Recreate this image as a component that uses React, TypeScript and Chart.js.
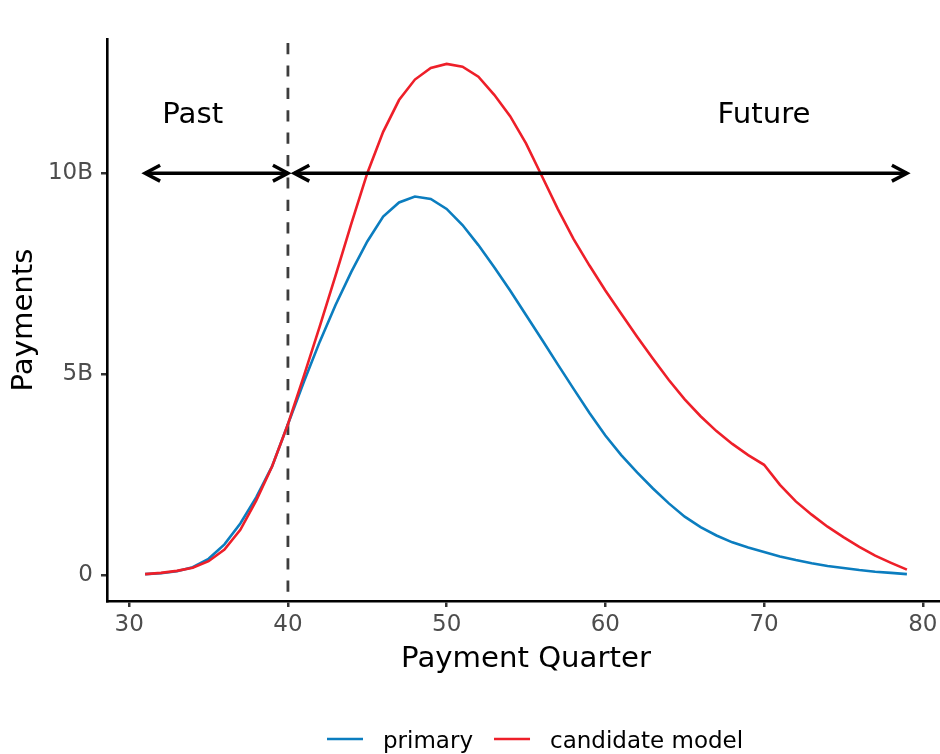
import React, { useEffect, useRef } from 'react';
import { Chart, registerables } from 'chart.js';

Chart.register(...registerables);

// Quarterly payments, in billions
const quarters = [
  31, 32, 33, 34, 35, 36, 37, 38, 39, 40,
  41, 42, 43, 44, 45, 46, 47, 48, 49, 50,
  51, 52, 53, 54, 55, 56, 57, 58, 59, 60,
  61, 62, 63, 64, 65, 66, 67, 68, 69, 70,
  71, 72, 73, 74, 75, 76, 77, 78, 79,
];
const primary = [
  0.02, 0.04, 0.09, 0.19, 0.4, 0.76, 1.28, 1.93, 2.7, 3.75,
  4.8, 5.8, 6.72, 7.55, 8.3, 8.92, 9.27, 9.42, 9.36, 9.11,
  8.71, 8.21, 7.66, 7.08, 6.47, 5.86, 5.24, 4.63, 4.03, 3.47,
  2.98, 2.55, 2.15, 1.78, 1.45, 1.19, 0.98, 0.81, 0.68, 0.57,
  0.46, 0.37, 0.29, 0.22, 0.17, 0.12, 0.08, 0.05, 0.02,
];
const candidate = [
  0.02, 0.05, 0.1, 0.18, 0.34, 0.63, 1.12, 1.85, 2.7, 3.75,
  4.95, 6.18, 7.45, 8.75, 10.0, 11.03, 11.82, 12.33, 12.62, 12.72,
  12.65, 12.4, 11.95, 11.42, 10.74, 9.93, 9.11, 8.36, 7.7, 7.08,
  6.5, 5.93, 5.38, 4.85, 4.37, 3.95, 3.58, 3.26, 2.98, 2.74,
  2.24, 1.83, 1.5, 1.2, 0.94, 0.7, 0.48, 0.3, 0.13,
];

const seriesNames = ['primary', 'candidate model'];
const seriesColors = ['#0b7dbf', '#ee1f29'];

const xTicks = [30, 40, 50, 60, 70, 80];
const yTicks = [0, 5, 10];

// Past / future split and its annotations
const cutoffQuarter = 40;
const pastSpan = [31, 40];
const futureSpan = [40.4, 79];
const arrowLevel = 10;
const periodLabels = ['Past', 'Future'];
const periodLabelX = [34, 70];
const periodLabelY = 11.45;

const FONT = "'DejaVu Sans', 'Noto Sans', sans-serif";
const TICK_SIZE = 23;
const TITLE_SIZE = 29.2;

const drawArrow = (ctx: CanvasRenderingContext2D, x1: number, x2: number, y: number) => {
  const len = 17;
  const ang = (28 * Math.PI) / 180;
  const dx = Math.cos(ang) * len;
  const dy = Math.sin(ang) * len;
  ctx.beginPath();
  ctx.moveTo(x1, y);
  ctx.lineTo(x2, y);
  ctx.stroke();
  ctx.beginPath();
  ctx.moveTo(x1 + dx, y - dy);
  ctx.lineTo(x1, y);
  ctx.lineTo(x1 + dx, y + dy);
  ctx.stroke();
  ctx.beginPath();
  ctx.moveTo(x2 - dx, y - dy);
  ctx.lineTo(x2, y);
  ctx.lineTo(x2 - dx, y + dy);
  ctx.stroke();
};

const annotationsPlugin = {
  id: 'periodAnnotations',
  beforeDatasetsDraw(chart: any) {
    const { ctx, chartArea, scales } = chart;
    const px = scales.x.getPixelForValue(cutoffQuarter);
    ctx.save();
    ctx.strokeStyle = '#3d3d3d';
    ctx.lineWidth = 2.8;
    ctx.setLineDash([11.2, 11.2]);
    ctx.lineDashOffset = 18.4;
    ctx.beginPath();
    ctx.moveTo(px, chartArea.top);
    ctx.lineTo(px, chartArea.bottom);
    ctx.stroke();
    ctx.restore();
  },
  afterDatasetsDraw(chart: any) {
    const { ctx, scales } = chart;
    const { x, y } = scales;
    const ay = y.getPixelForValue(arrowLevel);
    ctx.save();
    ctx.strokeStyle = '#000';
    ctx.lineWidth = 3.5;
    ctx.lineCap = 'butt';
    ctx.lineJoin = 'miter';
    drawArrow(ctx, x.getPixelForValue(pastSpan[0]), x.getPixelForValue(pastSpan[1]), ay);
    drawArrow(ctx, x.getPixelForValue(futureSpan[0]), x.getPixelForValue(futureSpan[1]), ay);

    ctx.fillStyle = '#000';
    ctx.font = `${TITLE_SIZE}px ${FONT}`;
    ctx.textAlign = 'center';
    ctx.textBaseline = 'middle';
    periodLabels.forEach((t, i) => {
      ctx.fillText(t, x.getPixelForValue(periodLabelX[i]), y.getPixelForValue(periodLabelY));
    });
    ctx.restore();
  },
  afterDraw(chart: any) {
    // legend row below the axis title
    const { ctx } = chart;
    ctx.save();
    ctx.font = `${TICK_SIZE}px ${FONT}`;
    ctx.textAlign = 'left';
    ctx.textBaseline = 'alphabetic';
    let cx = 327;
    const ly = 739;
    chart.data.datasets.forEach((ds: any) => {
      ctx.strokeStyle = ds.borderColor;
      ctx.lineWidth = 2.6;
      ctx.beginPath();
      ctx.moveTo(cx, ly);
      ctx.lineTo(cx + 36, ly);
      ctx.stroke();
      cx += 36 + 20;
      ctx.fillStyle = '#000';
      ctx.fillText(ds.label, cx, 748);
      cx += ctx.measureText(ds.label).width + 21;
    });
    ctx.restore();
  },
};

export default function App() {
  const canvasRef = useRef<HTMLCanvasElement | null>(null);

  useEffect(() => {
    const canvas = canvasRef.current;
    if (!canvas) return;
    Chart.defaults.font.family = FONT;

    const chart = new Chart(canvas, {
      type: 'line',
      data: {
        datasets: [
          {
            label: seriesNames[0],
            data: quarters.map((q, i) => ({ x: q, y: primary[i] })),
            borderColor: seriesColors[0],
            backgroundColor: seriesColors[0],
            borderWidth: 2.6,
            pointRadius: 0,
            tension: 0,
            order: 1,
          },
          {
            label: seriesNames[1],
            data: quarters.map((q, i) => ({ x: q, y: candidate[i] })),
            borderColor: seriesColors[1],
            backgroundColor: seriesColors[1],
            borderWidth: 2.6,
            pointRadius: 0,
            tension: 0,
            order: 0,
          },
        ],
      },
      options: {
        responsive: false,
        animation: false,
        devicePixelRatio: 1,
        layout: { padding: { top: 39, left: 0, right: 0, bottom: 0 } },
        plugins: {
          legend: { display: false },
          tooltip: { enabled: false },
        },
        scales: {
          x: {
            type: 'linear',
            min: 28.6,
            max: 81.4,
            afterBuildTicks: (s: any) => {
              s.ticks = xTicks.map((v) => ({ value: v }));
            },
            afterFit: (s: any) => {
              s.height = 153;
            },
            ticks: {
              font: { size: TICK_SIZE },
              color: '#4d4d4d',
              padding: 4,
              maxRotation: 0,
              autoSkip: false,
            },
            grid: {
              display: true,
              drawOnChartArea: false,
              drawTicks: true,
              tickLength: 6,
              color: '#333',
              lineWidth: 2.5,
            },
            border: { display: true, color: '#000', width: 2.6 },
            title: {
              display: true,
              text: 'Payment Quarter',
              color: '#000',
              font: { size: TITLE_SIZE },
              padding: { top: 0, bottom: 77 },
            },
          },
          y: {
            type: 'linear',
            min: -0.65,
            max: 13.34,
            afterBuildTicks: (s: any) => {
              s.ticks = yTicks.map((v) => ({ value: v }));
            },
            afterFit: (s: any) => {
              s.width = 107;
            },
            ticks: {
              font: { size: TICK_SIZE },
              color: '#4d4d4d',
              padding: 8,
              callback: (v: any) => (Number(v) === 0 ? '0' : `${v}B`),
            },
            grid: {
              display: true,
              drawOnChartArea: false,
              drawTicks: true,
              tickLength: 6,
              color: '#333',
              lineWidth: 2.5,
            },
            border: { display: true, color: '#000', width: 2.6 },
            title: {
              display: true,
              text: 'Payments',
              color: '#000',
              font: { size: TITLE_SIZE },
              padding: { top: 7, bottom: 0 },
            },
          },
        },
      },
      plugins: [annotationsPlugin],
    });

    return () => chart.destroy();
  }, []);

  return (
    <div
      style={{
        position: 'fixed',
        left: 0,
        top: 0,
        width: 940,
        height: 754,
        overflow: 'hidden',
        background: '#fff',
      }}
    >
      <canvas
        ref={canvasRef}
        width={945}
        height={754}
        style={{ display: 'block', width: 945, height: 754 }}
      />
    </div>
  );
}
